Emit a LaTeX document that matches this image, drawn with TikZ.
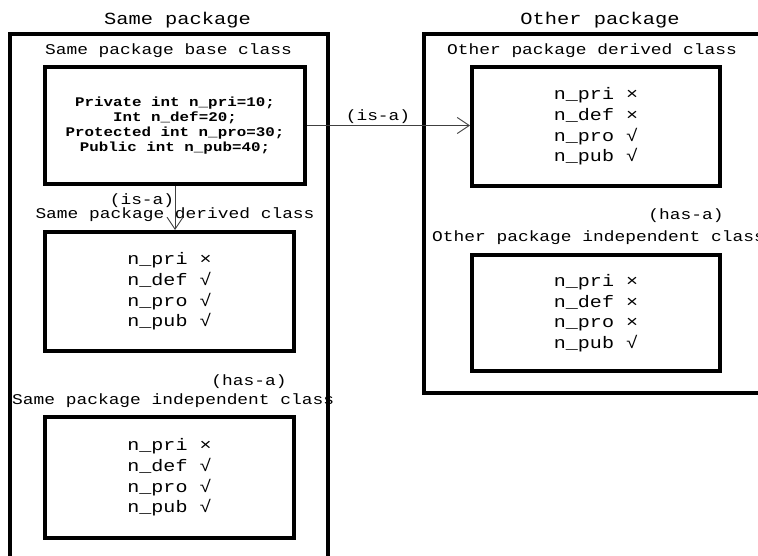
\documentclass[tikz,border=0pt]{standalone}
\usepackage{fontspec}
\usetikzlibrary{arrows.meta}
\newfontfamily\cour[FakeStretch=1.2]{Liberation Mono}
\begin{document}
\begin{tikzpicture}[x=1pt,y=-1pt,
  pkgtitle/.style={font=\cour\fontsize{17}{20}\selectfont, anchor=base, inner sep=0pt},
  clslabel/.style={font=\cour\fontsize{14.9}{18}\selectfont, anchor=base, inner sep=0pt},
  pkgbox/.style={draw, line width=4.5pt, rectangle, inner sep=0pt},
  fieldbox/.style={draw, line width=4pt, rectangle, inner sep=0pt, align=left,
    font=\cour\fontsize{16.7}{20.6}\selectfont},
  basebox/.style={draw, line width=4pt, rectangle, inner sep=0pt, align=center,
    font=\cour\bfseries\fontsize{13.2}{15}\selectfont},
  link/.style={draw=black!75, line width=0.9pt, -{Straight Barb[length=12pt,width=16pt]}}
]
\clip (0,0) rectangle (758,556);

% package containers (partly running off the page)
\node[pkgbox, minimum width=318pt, minimum height=566pt] (samepkg) at (169,317) {};
\node[pkgbox, minimum width=376pt, minimum height=359pt] (otherpkg) at (612,213.5) {};

\node[pkgtitle] (samettl) at (177.5,25) {Same package};
\node[pkgtitle] (otherttl) at (600,25) {Other package};

% same package classes
\node[clslabel] (baselbl) at (168.5,55) {Same package base class};
\node[basebox, minimum width=260pt, minimum height=117pt] (base) at (175,125.5)
  {Private int n\_pri=10;\\Int n\_def=20;\\Protected int n\_pro=30;\\Public int n\_pub=40;};

\node[clslabel] (lderlbl) at (175,219) {Same package derived class};
\node[fieldbox, minimum width=249pt, minimum height=119pt] (lder) at (169.5,291.5)
  {n\_pri ×\\n\_def √\\n\_pro √\\n\_pub √};

\node[clslabel] (lhas) at (249,385) {(has-a)};
\node[clslabel, anchor=base west] (lindlbl) at (12,404) {Same package independent class};
\node[fieldbox, minimum width=249pt, minimum height=121pt] (lind) at (169.5,477.5)
  {n\_pri ×\\n\_def √\\n\_pro √\\n\_pub √};

% other package classes
\node[clslabel] (rderlbl) at (592,55) {Other package derived class};
\node[fieldbox, minimum width=248pt, minimum height=119pt] (rder) at (596,126.5)
  {n\_pri ×\\n\_def ×\\n\_pro √\\n\_pub √};

\node[clslabel] (rhas) at (686,220) {(has-a)};
\node[clslabel, anchor=base west] (rindlbl) at (432,242) {Other package independent class};
\node[fieldbox, minimum width=248pt, minimum height=116pt] (rind) at (596,313)
  {n\_pri ×\\n\_def ×\\n\_pro ×\\n\_pub √};

% inheritance links
\draw[link] (base.east) -- (base.east -| rder.west);
\node[clslabel] (hisa) at (378,121) {(is-a)};
\draw[link] (base.south) -- (base.south |- lder.north);
\node[clslabel] (visa) at (142,205) {(is-a)};
\end{tikzpicture}
\end{document}
